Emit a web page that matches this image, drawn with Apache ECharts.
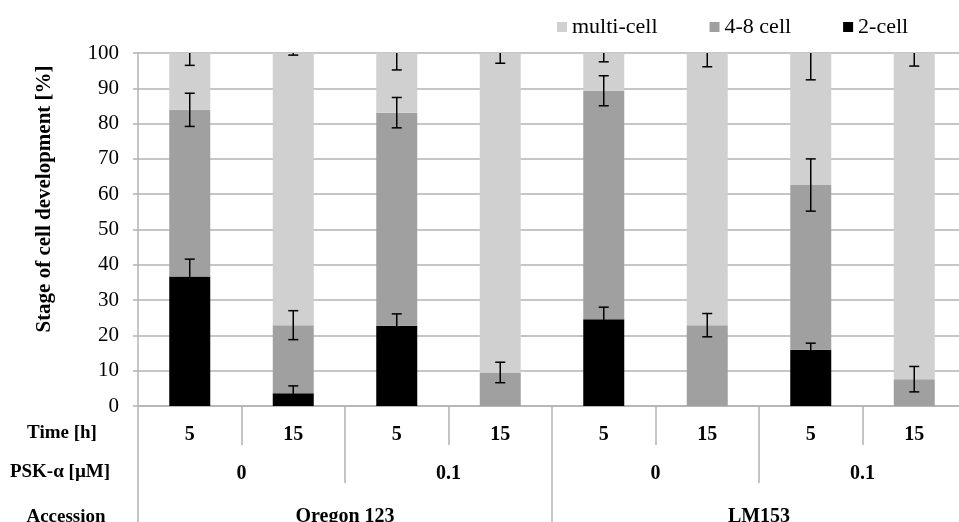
<!DOCTYPE html>
<html><head><meta charset="utf-8">
<script src="https://cdn.jsdelivr.net/npm/echarts@6/dist/echarts.min.js"></script>
<style>html,body{margin:0;padding:0;background:#fff}#c{width:959px;height:522px}</style>
</head><body><div id="c"></div>
<script>
var timeLabels = ['5','15','5','15','5','15','5','15'];
var pskLabels = ['0','0.1','0','0.1'];
var accessionLabels = ['Oregon 123','LM153'];
var seriesNames = ['multi-cell','4-8 cell','2-cell'];
// segment values (%)
var twoCell   = [36.7, 3.6, 22.7, 0, 24.6, 0, 15.9, 0];
var fourEight = [47.2, 19.3, 60.4, 9.5, 64.7, 22.9, 46.7, 7.6];
var multiCell = [16.1, 77.1, 16.9, 90.5, 10.7, 77.1, 37.4, 92.4];
// error bar half-widths
var errTwo   = [4.9, 2.1, 3.4, 0, 3.4, 0, 1.9, 0];
var errFour  = [4.7, 4.1, 4.3, 2.9, 4.25, 3.3, 7.4, 3.6];
var errMulti = [3.5, 0.6, 4.8, 2.9, 2.5, 3.9, 7.6, 3.7];

var FONT = 'Liberation Serif';
var errData = [];
for (var i = 0; i < timeLabels.length; i++) {
  if (twoCell[i] > 0) errData.push([i, twoCell[i], errTwo[i]]);
  errData.push([i, twoCell[i] + fourEight[i], errFour[i]]);
  errData.push([i, twoCell[i] + fourEight[i] + multiCell[i], errMulti[i]]);
}

var chart = echarts.init(document.getElementById('c'), null, {renderer: 'canvas'});
var gridLine = '#b3b3b3';
chart.setOption({
  animation: false,
  backgroundColor: '#fff',
  legend: {
    data: seriesNames,
    top: 11, left: 552,
    icon: 'rect', itemWidth: 10, itemHeight: 10, itemGap: 52,
    textStyle: {fontFamily: FONT, fontSize: 22, color: '#000'}
  },
  grid: {left: 138, top: 53, width: 828, height: 353, containLabel: false, outerBoundsMode: 'none'},
  xAxis: [
    {type: 'category', data: timeLabels, position: 'bottom',
     axisLine: {lineStyle: {color: gridLine, width: 1.5}},
     axisTick: {show: true, length: 39, interval: 0, lineStyle: {color: gridLine, width: 1.5}},
     axisLabel: {interval: 0, margin: 19, fontFamily: FONT, fontSize: 20, fontWeight: 'bold', color: '#000'},
     splitLine: {show: false}},
    {type: 'category', data: pskLabels, position: 'bottom',
     axisLine: {show: false},
     axisTick: {show: true, length: 77, interval: 0, lineStyle: {color: gridLine, width: 1.5}},
     axisLabel: {interval: 0, margin: 58, fontFamily: FONT, fontSize: 20, fontWeight: 'bold', color: '#000'}},
    {type: 'category', data: accessionLabels, position: 'bottom',
     axisLine: {show: false},
     axisTick: {show: true, length: 120, interval: 0, lineStyle: {color: gridLine, width: 1.5}},
     axisLabel: {interval: 0, margin: 101, fontFamily: FONT, fontSize: 20, fontWeight: 'bold', color: '#000'}}
  ],
  yAxis: {type: 'value', min: 0, max: 100, interval: 10,
    axisLine: {show: true, lineStyle: {color: gridLine, width: 1.5}},
    axisTick: {show: true, length: 5, lineStyle: {color: gridLine, width: 1.5}},
    axisLabel: {margin: 19, fontFamily: FONT, fontSize: 21, color: '#000'},
    splitLine: {lineStyle: {color: gridLine, width: 1.5}}
  },
  graphic: [
    {type: 'text', x: 45, y: 199, rotation: Math.PI / 2,
     style: {text: 'Stage of cell development [%]', font: 'bold 21px "Liberation Serif"', fill: '#000', align: 'center', verticalAlign: 'middle'}},
    {type: 'text', x: 62, y: 433, style: {text: 'Time [h]', font: 'bold 19px "Liberation Serif"', fill: '#000', align: 'center', verticalAlign: 'middle'}},
    {type: 'text', x: 60, y: 472, style: {text: 'PSK-\u03b1 [\u00b5M]', font: 'bold 19px "Liberation Serif"', fill: '#000', align: 'center', verticalAlign: 'middle'}},
    {type: 'text', x: 66, y: 517, style: {text: 'Accession', font: 'bold 19px "Liberation Serif"', fill: '#000', align: 'center', verticalAlign: 'middle'}}
  ],
  series: [
    {name: '2-cell', type: 'bar', stack: 's', data: twoCell, barWidth: 41, itemStyle: {color: '#000000'}},
    {name: '4-8 cell', type: 'bar', stack: 's', data: fourEight, barWidth: 41, itemStyle: {color: '#a0a0a0'}},
    {name: 'multi-cell', type: 'bar', stack: 's', data: multiCell, barWidth: 41, itemStyle: {color: '#d0d0d0'}},
    {type: 'custom', name: 'err', clip: true, z: 10, data: errData,
     renderItem: function (params, api) {
       var x = api.value(0), v = api.value(1), e = api.value(2);
       var hi = api.coord([x, v + e]);
       var lo = api.coord([x, v - e]);
       var cap = 5;
       var style = {stroke: '#000', lineWidth: 1.5};
       return {type: 'group', children: [
         {type: 'line', shape: {x1: hi[0], y1: hi[1], x2: lo[0], y2: lo[1]}, style: style},
         {type: 'line', shape: {x1: hi[0] - cap, y1: hi[1], x2: hi[0] + cap, y2: hi[1]}, style: style},
         {type: 'line', shape: {x1: lo[0] - cap, y1: lo[1], x2: lo[0] + cap, y2: lo[1]}, style: style}
       ]};
     }}
  ]
});
</script></body></html>
